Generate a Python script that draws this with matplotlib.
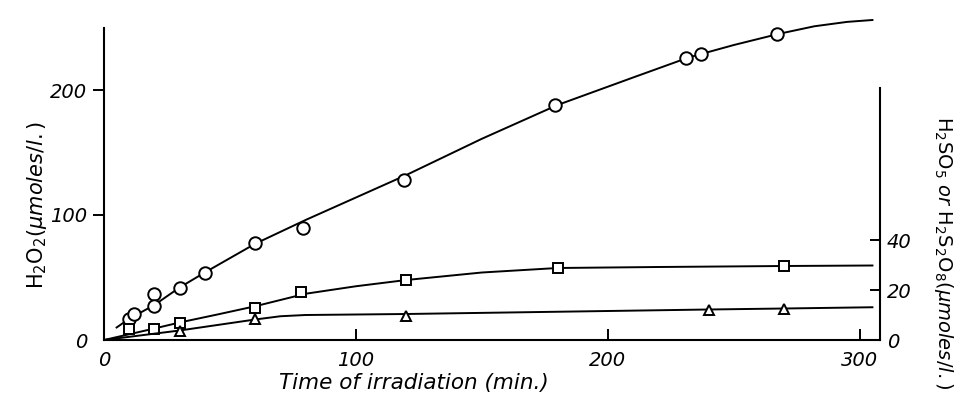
import matplotlib
matplotlib.use("Agg")
import matplotlib.pyplot as plt

plt.rcParams['font.family'] = ['DejaVu Sans']
plt.rcParams['mathtext.fontset'] = 'dejavusans'

# H2O2 measured points (left axis, umoles/l.)
h2o2_t = [10, 12, 20, 20, 30, 40, 60, 79, 119, 179, 231, 237, 267]
h2o2_v = [17, 21, 37, 27, 42, 54, 78, 90, 128, 188, 226, 229, 245]
# H2O2 drawn curve
h2o2_curve_t = [5, 10, 20, 30, 40, 60, 80, 100, 120, 150, 180, 210, 232, 250, 268, 282, 295, 305]
h2o2_curve_v = [10, 17, 28, 42, 54, 77, 96, 114, 132, 161, 188, 210, 226, 236, 245, 251, 254.5, 256]

# Square series (right axis)
sq_t = [10, 20, 30, 60, 78, 120, 180, 270]
sq_v = [4.5, 4.3, 6.7, 13, 19.2, 24, 29, 29.5]
sq_curve_t = [0, 10, 20, 30, 45, 60, 80, 100, 120, 150, 180, 220, 270, 305]
sq_curve_v = [0, 2.3, 4.6, 7, 10.2, 13.5, 18.5, 21.5, 24, 27, 28.8, 29.2, 29.6, 29.8]

# Triangle series (right axis)
tri_t = [30, 60, 120, 240, 270]
tri_v = [3.8, 8.4, 9.8, 12.2, 12.5]
tri_curve_t = [0, 30, 60, 70, 80, 100, 120, 180, 240, 270, 305]
tri_curve_v = [0, 3.8, 8.2, 9.5, 10.0, 10.2, 10.4, 11.3, 12.2, 12.6, 13.1]

x_ticks = [0, 100, 200, 300]
left_ticks = [0, 100, 200]
right_ticks = [0, 20, 40]

W, H = 961, 398
fig = plt.figure(figsize=(W / 100, H / 100), dpi=100)
ax = fig.add_axes([104 / W, 1 - 340 / H, 776 / W, 325 / H])
ax.set_xlim(0, 308)
ax.set_ylim(0, 260)
ax2 = ax.twinx()
ax2.set_ylim(0, 130)

lw = 1.4
mk = dict(markerfacecolor='white', markeredgecolor='black', markeredgewidth=1.4, linestyle='none')

ax.plot(h2o2_curve_t, h2o2_curve_v, color='black', lw=lw)
ax.plot(h2o2_t, h2o2_v, marker='o', markersize=9, **mk)

ax2.plot(sq_curve_t, sq_curve_v, color='black', lw=lw)
ax2.plot(sq_t, sq_v, marker='s', markersize=6.5, **mk)
ax2.plot(tri_curve_t, tri_curve_v, color='black', lw=lw)
ax2.plot(tri_t, tri_v, marker='^', markersize=7, **mk)

for s in ['top', 'right']:
    ax.spines[s].set_visible(False)
for s in ['top', 'left', 'bottom']:
    ax2.spines[s].set_visible(False)
ax.spines['left'].set_bounds(0, 250)
ax2.spines['right'].set_bounds(0, 101)
for sp in [ax.spines['left'], ax.spines['bottom'], ax2.spines['right']]:
    sp.set_linewidth(1.5)

tfont = dict(fontsize=14, fontstyle='italic')
ax.set_xticks(x_ticks)
ax.set_xticklabels([str(v) for v in x_ticks], **tfont)
ax.set_yticks(left_ticks)
ax.set_yticklabels([str(v) for v in left_ticks], **tfont)
ax2.set_yticks(right_ticks)
ax2.set_yticklabels([str(v) for v in right_ticks], **tfont)

ax.tick_params(axis='x', direction='in', length=8, width=1.4, pad=8)
ax.tick_params(axis='y', direction='out', length=8, width=1.4, pad=4)
ax2.tick_params(axis='y', direction='in', length=7, width=1.4, pad=5)
ax.xaxis.get_major_ticks()[0].tick1line.set_visible(False)
ax.yaxis.get_major_ticks()[0].tick1line.set_visible(False)
ax2.yaxis.get_major_ticks()[0].tick2line.set_visible(False)

fig.text(37 / W, 1 - 205 / H, r'$\mathrm{H_2O_2}(\mathit{\mu moles/l.})$',
         rotation=90, ha='center', va='center', fontsize=15)
fig.text(943 / W, 1 - 252 / H,
         r'$\mathrm{H_2SO_5}\ \mathit{or}\ \mathrm{H_2S_2O_8}(\mathit{\mu moles/l.})$',
         rotation=-90, ha='center', va='center', fontsize=14)
fig.text(414 / W, 1 - 383 / H, 'Time of irradiation (min.)',
         ha='center', va='center', fontsize=15.5, fontstyle='italic')

fig.savefig('out.png', dpi=100)
